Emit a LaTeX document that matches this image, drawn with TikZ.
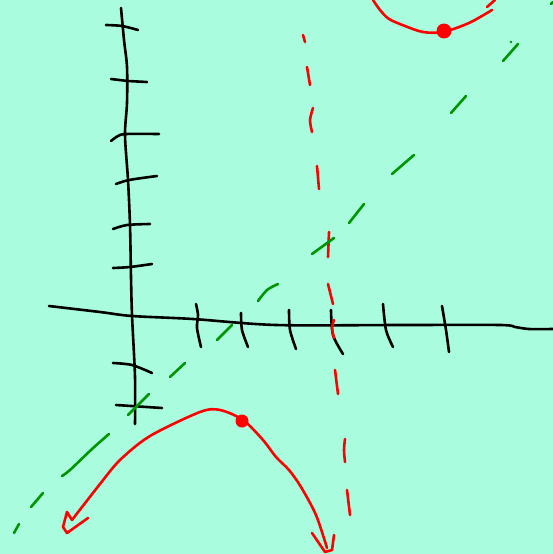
\documentclass[tikz,border=0pt]{standalone}
\definecolor{bg}{RGB}{170,252,222}
\definecolor{pen}{RGB}{255,0,0}
\definecolor{gpen}{RGB}{0,150,0}
\begin{document}
\begin{tikzpicture}[x=1pt,y=-1pt,
  ink/.style={line width=2.6pt,line cap=round,line join=round},
  axisline/.style={ink,black},
  redline/.style={ink,pen},
  greenline/.style={ink,gpen},
  dotmark/.style={circle,fill=pen,inner sep=0pt}]
\fill[bg] (0,0) rectangle (553,554);
\useasboundingbox (0,0) rectangle (553,554);
% y axis
\draw[axisline] plot[smooth] coordinates {(121,8) (124,40) (127,67) (127,103) (125,135) (128,180) (130,225) (131,277) (132,315) (135,377) (135,424)};
% y ticks
\draw[axisline] plot[smooth] coordinates {(106,25) (122,26) (138,30)};
\draw[axisline] (111,79) -- (128,81) -- (147,82);
\draw[axisline] plot[smooth] coordinates {(111,141) (118,136) (126,134) (159,134)};
\draw[axisline] plot[smooth] coordinates {(116,184) (129,180) (157,176)};
\draw[axisline] plot[smooth] coordinates {(113,229) (127,225) (150,224)};
\draw[axisline] plot[smooth] coordinates {(113,268) (130,267) (152,264)};
\draw[axisline] plot[smooth] coordinates {(113,363) (132,365) (152,373)};
\draw[axisline] (116,405) -- (162,408);
% x axis
\draw[axisline] plot[smooth] coordinates {(49,306) (100,312) (132,316) (193,319) (276,325) (400,325) (500,325) (515,327) (529,329) (553,329)};
% x ticks
\draw[axisline] plot[smooth] coordinates {(196,304) (198,315) (197,328) (201,347)};
\draw[axisline] plot[smooth] coordinates {(241,313) (242,330) (248,347)};
\draw[axisline] plot[smooth] coordinates {(289,310) (290,330) (296,349)};
\draw[axisline] plot[smooth] coordinates {(331,310) (333,335) (343,354)};
\draw[axisline] plot[smooth] coordinates {(383,304) (386,330) (393,347)};
\draw[axisline] plot[smooth] coordinates {(442,306) (446,330) (449,352)};
% red dashed vertical asymptote
\draw[redline] (303,35) -- (305,42);
\draw[redline] (307,67) -- (310,85);
\draw[redline] plot[smooth] coordinates {(313,108) (310,120) (312,132)};
\draw[redline] (317,166) -- (319,189);
\draw[redline] (329,232) -- (328,257);
\draw[redline] (328,284) -- (333,304);
\draw[redline] plot[smooth] coordinates {(334,320) (332,328) (334,338)};
\draw[redline] (335,370) -- (338,394);
\draw[redline] plot[smooth] coordinates {(345,439) (344,450) (345,462)};
\draw[redline] (347,490) -- (350,515);
% green dashed oblique asymptote
\draw[greenline] (14,533) -- (19,524);
\draw[greenline] (31,507) -- (43,493);
\draw[greenline] plot[smooth] coordinates {(62,476) (70,470) (92,449) (109,434)};
\draw[greenline] (128,415) -- (149,394);
\draw[greenline] (170,377) -- (185,363);
\draw[greenline] (217,340) -- (232,325);
\draw[greenline] plot[smooth] coordinates {(258,301) (267,290) (278,284)};
\draw[greenline] (312,254) -- (334,238);
\draw[greenline] (349,223) -- (364,204);
\draw[greenline] (392,174) -- (414,155);
\draw[greenline] (451,113) -- (466,96);
\draw[greenline] (503,61) -- (518,44);
\fill[gpen] (511,42) circle (1.3);
\draw[greenline] (551,4) -- (553,2);
% red upper branch
\draw[redline] plot[smooth] coordinates {(373,0) (380,10) (389,19) (405,26) (423,32) (443,32) (469,23) (492,10)};
\draw[redline] (487,7) -- (495,0);
\node[dotmark,minimum size=15pt] (d1) at (444,31) {};
% red lower branch
\draw[redline] plot[smooth] coordinates {(72,520) (100,484) (120,460) (150,436) (200,412) (220,410) (243,420) (263,440) (276,457) (289,470) (301,487) (316,515) (327,548)};
\draw[redline] (72,520) -- (67,512) -- (63,527) -- (67,533) -- (88,518);
\draw[redline] (312,533) -- (325,552) -- (332,550) -- (334,535);
\node[dotmark,minimum size=13pt] (d2) at (242,421) {};
\end{tikzpicture}
\end{document}
